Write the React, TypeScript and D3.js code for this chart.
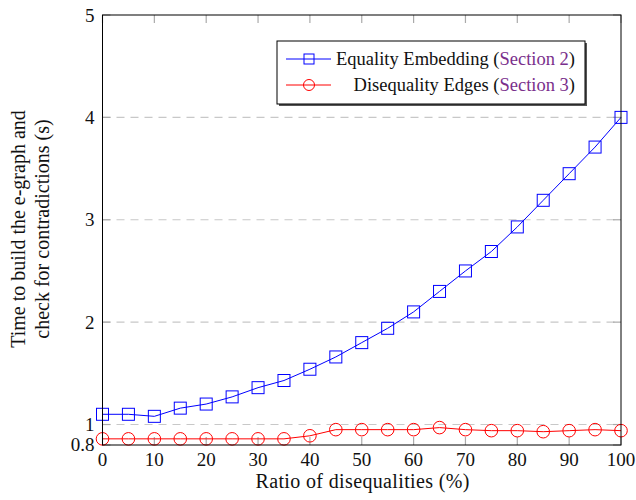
import React from "react";
import * as d3 from "d3";

const ratios = [0, 5, 10, 15, 20, 25, 30, 35, 40, 45, 50, 55, 60, 65, 70, 75, 80, 85, 90, 95, 100];
const equalityEmbedding = [1.10, 1.10, 1.08, 1.16, 1.20, 1.27, 1.36, 1.43, 1.54, 1.66, 1.80, 1.94, 2.10, 2.30, 2.50, 2.69, 2.93, 3.19, 3.45, 3.71, 4.00];
const disequalityEdges = [0.86, 0.86, 0.86, 0.86, 0.86, 0.86, 0.86, 0.86, 0.89, 0.95, 0.95, 0.95, 0.95, 0.97, 0.95, 0.94, 0.94, 0.93, 0.94, 0.95, 0.94];
const xTicks = [0, 10, 20, 30, 40, 50, 60, 70, 80, 90, 100];
const yTicks = [0.8, 1, 2, 3, 4, 5];
const gridTicks = [1, 2, 3, 4];

const FONT = "Liberation Serif, DejaVu Serif, serif";

const App = () => {
  const width = 636;
  const height = 500;
  const left = 102.5;
  const right = 621;
  const top = 15;
  const bottom = 445;

  const x = d3.scaleLinear().domain([0, 100]).range([left, right]);
  const y = d3.scaleLinear().domain([0.8, 5]).range([bottom, top]);

  const line = d3.line<number>()
    .x((_, i) => x(ratios[i]))
    .y(d => y(d));

  const sq = 12;
  const r = 6.3;
  const tick = { fontFamily: FONT, fontSize: 19 };
  const lab = { fontFamily: FONT, fontSize: 20 };
  const leg = { fontFamily: FONT, fontSize: 18.5 };

  return (
    <svg width={width} height={height} style={{ position: "absolute", left: 0, top: 0, fontFamily: FONT }}>
      <rect width={width} height={height} fill="#fff" />
      {/* grid */}
      {gridTicks.map(t => (
        <line key={"g" + t} x1={left} x2={right} y1={y(t)} y2={y(t)} stroke="#c8c8c8" strokeWidth={1.2} strokeDasharray="8,6" />
      ))}
      {/* x ticks inward */}
      {xTicks.map(t => (
        <g key={"xt" + t}>
          <line x1={x(t)} x2={x(t)} y1={bottom} y2={bottom - 8} stroke="#aaa" strokeWidth={1.2} />
          <line x1={x(t)} x2={x(t)} y1={top} y2={top + 8} stroke="#aaa" strokeWidth={1.2} />
          <text x={x(t)} y={bottom + 21} textAnchor="middle" style={tick} fill="#111">{t}</text>
        </g>
      ))}
      {yTicks.map(t => (
        <g key={"yt" + t}>
          <line x1={left} x2={left + 8} y1={y(t)} y2={y(t)} stroke="#aaa" strokeWidth={1.2} />
          <line x1={right} x2={right - 8} y1={y(t)} y2={y(t)} stroke="#aaa" strokeWidth={1.2} />
          <text x={left - 8} y={y(t) + (t === 0.8 ? -1 : 0)} dy="0.35em" textAnchor="end" style={tick} fill="#111">{t}</text>
        </g>
      ))}
      {/* series */}
      <path d={line(equalityEmbedding) || ""} fill="none" stroke="#0000ff" strokeWidth={1} />
      {equalityEmbedding.map((v, i) => (
        <rect key={"b" + i} x={x(ratios[i]) - sq / 2} y={y(v) - sq / 2} width={sq} height={sq} fill="none" stroke="#0000ff" strokeWidth={1} />
      ))}
      <path d={line(disequalityEdges) || ""} fill="none" stroke="#ff0000" strokeWidth={1} />
      {disequalityEdges.map((v, i) => (
        <circle key={"r" + i} cx={x(ratios[i])} cy={y(v)} r={r} fill="none" stroke="#ff0000" strokeWidth={1} />
      ))}
      {/* frame */}
      <rect x={left} y={top} width={right - left} height={bottom - top} fill="none" stroke="#000" strokeWidth={1} />
      {/* axis titles */}
      <text x={362.5} y={488} textAnchor="middle" style={lab} fill="#111" textLength={214}>Ratio of disequalities (%)</text>
      <g transform="translate(25, 229) rotate(-90)">
        <text x={0} y={0} textAnchor="middle" style={lab} fill="#111">Time to build the e-graph and</text>
        <text x={0} y={24} textAnchor="middle" style={lab} fill="#111">check for contradictions (s)</text>
      </g>
      {/* legend */}
      <rect x={279} y={43} width={308} height={63} fill="#555" />
      <rect x={277} y={41} width={308} height={63} fill="#fff" stroke="#000" strokeWidth={1} />
      <line x1={286} x2={331} y1={59} y2={59} stroke="#0000ff" strokeWidth={1} />
      <rect x={309 - 5} y={59 - 5} width={10} height={10} fill="none" stroke="#0000ff" strokeWidth={1} />
      <text x={575} y={59} dy="0.35em" textAnchor="end" style={leg} fill="#111">
        Equality Embedding (<tspan fill="#7a2f8c">Section 2</tspan>)
      </text>
      <line x1={286} x2={331} y1={85} y2={85} stroke="#ff0000" strokeWidth={1} />
      <circle cx={309} cy={85} r={5.5} fill="none" stroke="#ff0000" strokeWidth={1} />
      <text x={575} y={85} dy="0.35em" textAnchor="end" style={leg} fill="#111">
        Disequality Edges (<tspan fill="#7a2f8c">Section 3</tspan>)
      </text>
    </svg>
  );
};

export default App;
